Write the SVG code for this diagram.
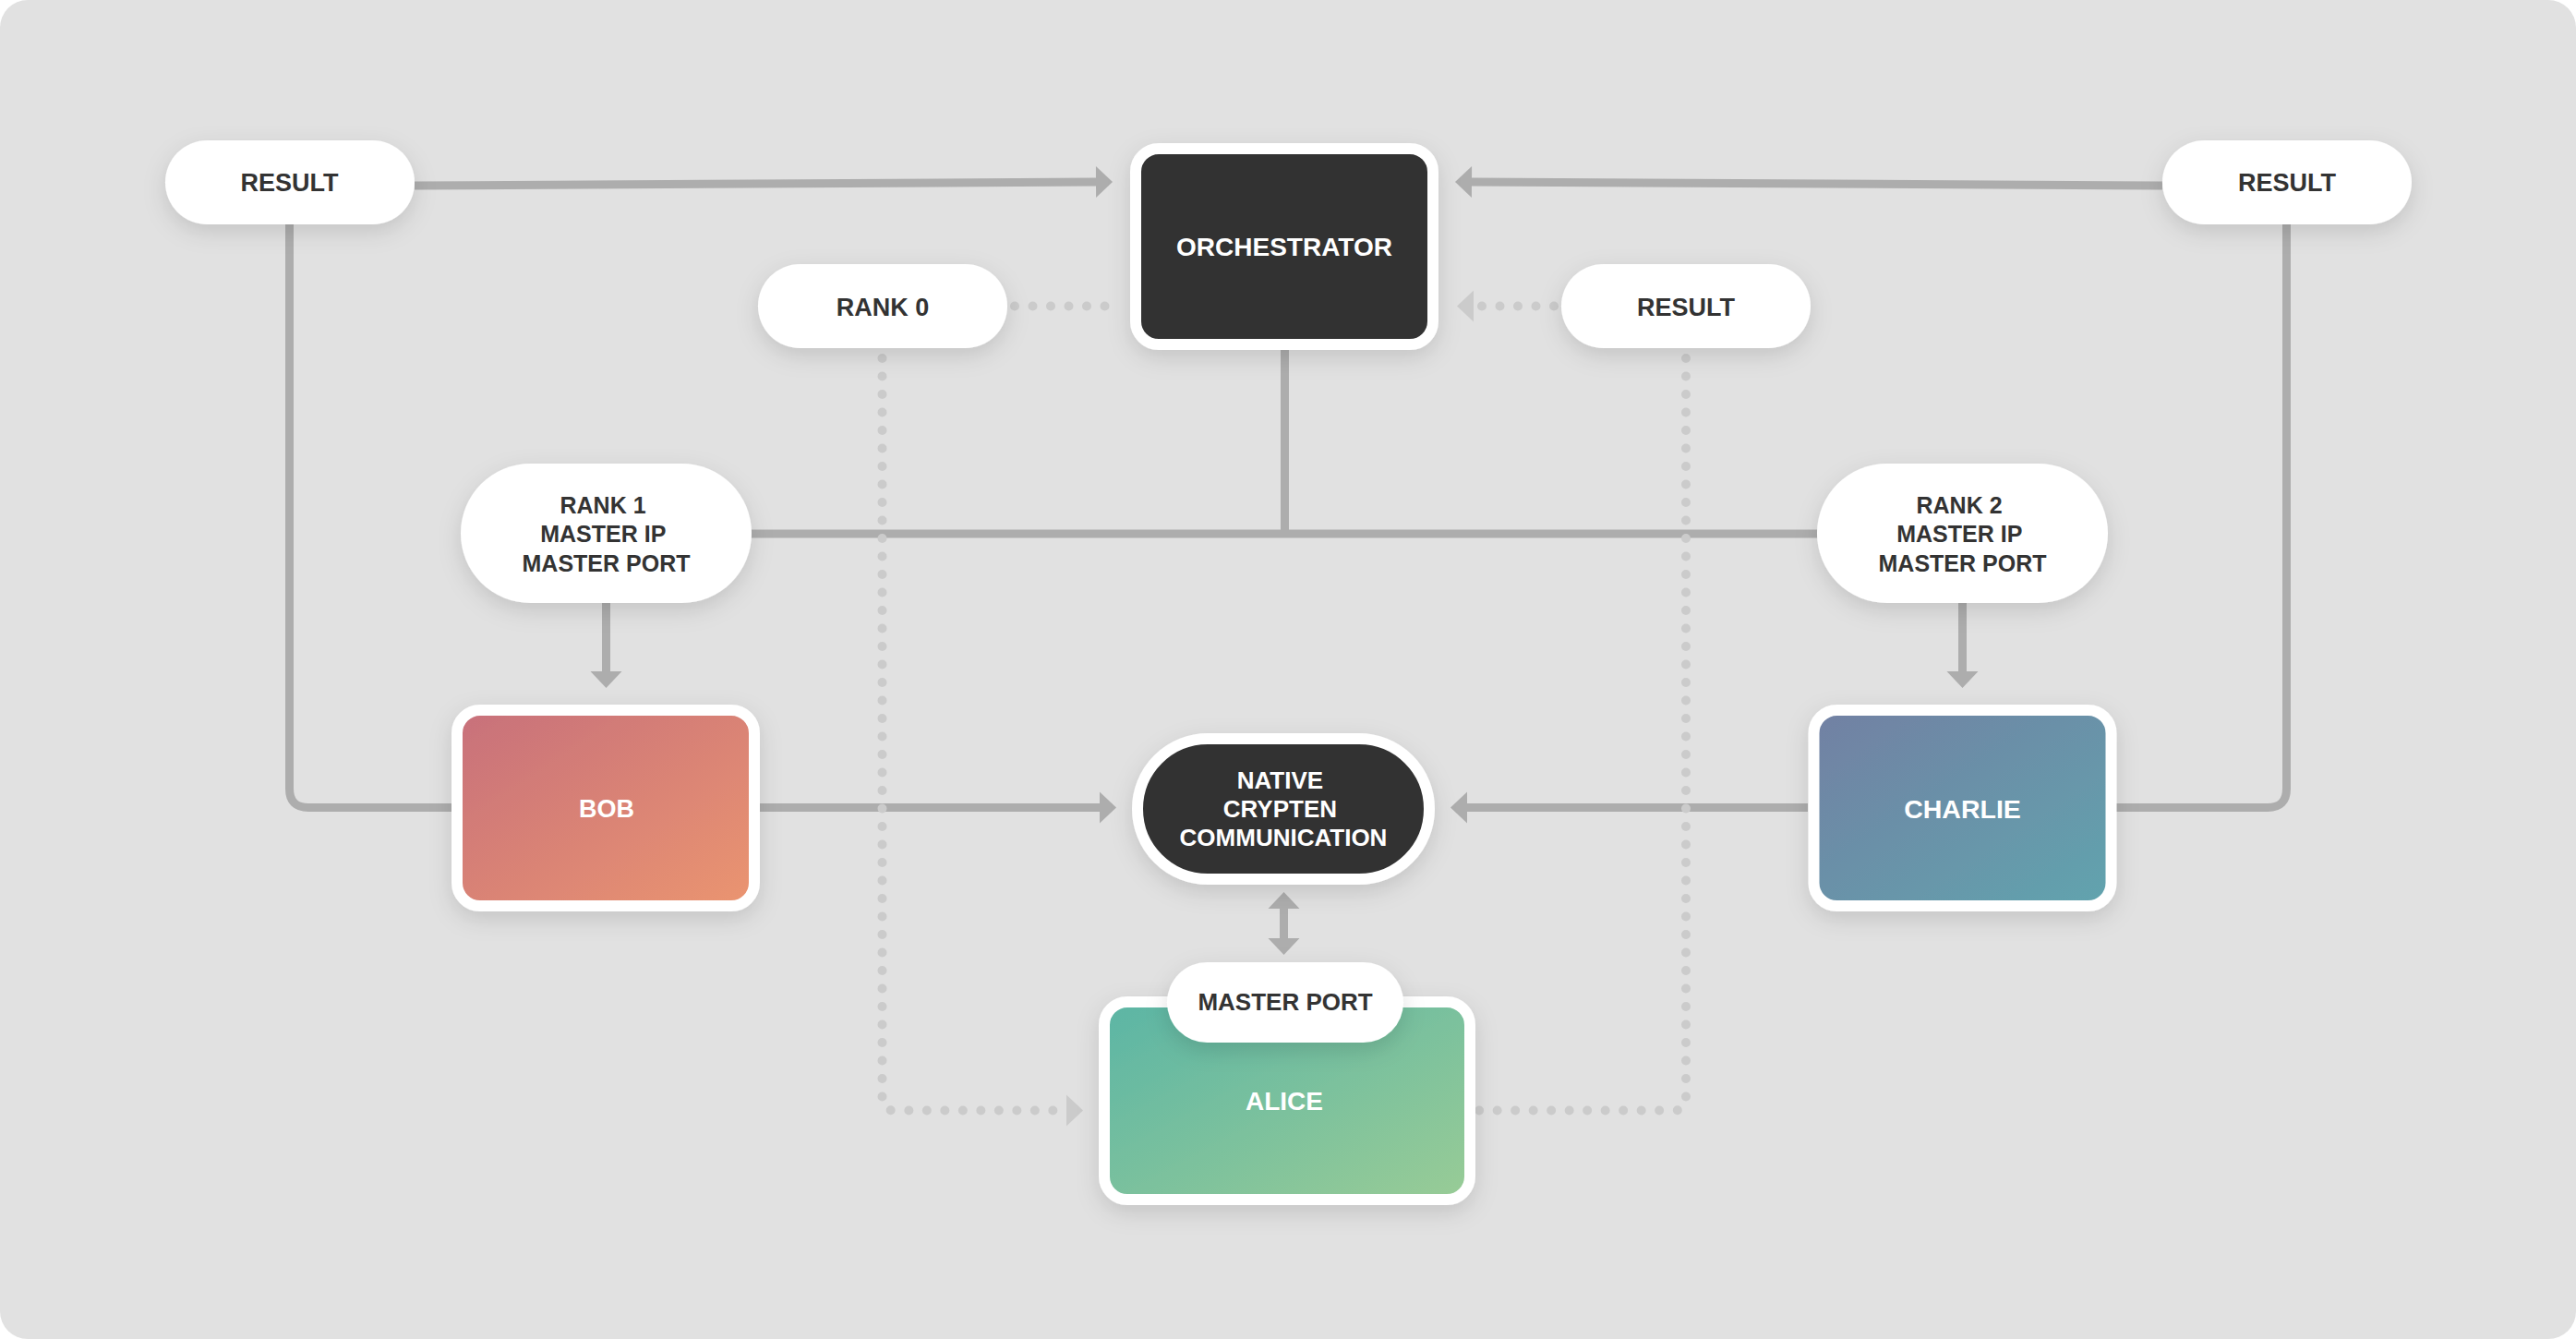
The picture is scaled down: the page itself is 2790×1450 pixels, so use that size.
<svg xmlns="http://www.w3.org/2000/svg" width="2790" height="1450" viewBox="0 0 2790 1450">
  <defs>
    <style>
      .bg { fill: #e1e1e1; }
      .pill { fill: #ffffff; filter: url(#shadow); }
      .dark { fill: #333333; stroke: #ffffff; stroke-width: 12; filter: url(#shadow); }
      .box { stroke: #ffffff; stroke-width: 12; filter: url(#shadow); }
      .lbl { font-family: "Liberation Sans", Arial, sans-serif; font-weight: 700; text-anchor: middle; }
      .lblDark { fill: #333333; font-size: 27px; }
      .lblLight { fill: #ffffff; font-size: 27px; }
      .solid { fill: none; stroke: #adadad; stroke-width: 9; }
      .dotted { fill: none; stroke: #cbcbcb; stroke-width: 10; stroke-linecap: round; stroke-dasharray: 0 19.5; }
    </style>
    <filter id="shadow" x="-30%" y="-30%" width="160%" height="170%">
      <feDropShadow dx="0" dy="8" stdDeviation="12" flood-color="#000000" flood-opacity="0.13"/>
    </filter>
    <marker id="arr" markerUnits="userSpaceOnUse" viewBox="0 -17 18 34" refX="0" refY="0" markerWidth="18" markerHeight="34" orient="auto-start-reverse" overflow="visible">
      <path d="M0,-17 L18,0 L0,17 Z" fill="#adadad"/>
    </marker>
    <marker id="arrLight" markerUnits="userSpaceOnUse" viewBox="0 -17 18 34" refX="0" refY="0" markerWidth="18" markerHeight="34" orient="auto" overflow="visible">
      <path d="M0,-17 L18,0 L0,17 Z" fill="#cbcbcb"/>
    </marker>
    <linearGradient id="gBob" x1="0" y1="0" x2="1" y2="1">
      <stop offset="0" stop-color="#c7707b"/>
      <stop offset="1" stop-color="#eb9570"/>
    </linearGradient>
    <linearGradient id="gCharlie" x1="0" y1="0" x2="1" y2="1">
      <stop offset="0" stop-color="#7280a3"/>
      <stop offset="1" stop-color="#61a4ae"/>
    </linearGradient>
    <linearGradient id="gAlice" x1="0" y1="0" x2="1" y2="1">
      <stop offset="0" stop-color="#5bb5a5"/>
      <stop offset="1" stop-color="#99cc96"/>
    </linearGradient>
  </defs>

  <rect class="bg" x="0" y="0" width="2790" height="1450" rx="30"/>

  <g id="connectors">
    <path class="solid" d="M449,201 L1187,197" marker-end="url(#arr)"/>
    <path class="solid" d="M2342,201 L1594,197" marker-end="url(#arr)"/>
    <path class="solid" d="M1391.5,379 V578"/>
    <path class="solid" d="M814,578 H1968"/>
    <path class="solid" d="M656.5,653 V727" marker-end="url(#arr)"/>
    <path class="solid" d="M2125.5,653 V727" marker-end="url(#arr)"/>
    <path class="solid" d="M313.5,243 V854 Q313.5,874.5 334,874.5 H490"/>
    <path class="solid" d="M2476.5,243 V854 Q2476.5,874.5 2456,874.5 H2292"/>
    <path class="solid" d="M823,874.5 H1191" marker-end="url(#arr)"/>
    <path class="solid" d="M1958,874.5 H1589" marker-end="url(#arr)"/>
    <path class="solid" d="M1390.5,984 V1016" marker-start="url(#arr)" marker-end="url(#arr)"/>
    <path class="dotted" d="M1099,331.5 H1215"/>
    <path class="dotted" d="M1683,331.5 H1596" marker-end="url(#arrLight)"/>
    <path class="dotted" d="M955.5,388 V1190 Q955.5,1202.5 968,1202.5 H1155" marker-end="url(#arrLight)"/>
    <path class="dotted" d="M1826,388 V1190 Q1826,1202.5 1813.5,1202.5 H1600"/>
  </g>

  <g id="result-left">
    <rect class="pill" x="179" y="152" width="270" height="91" rx="45.5"/>
    <text class="lbl lblDark" x="313.5" y="207">RESULT</text>
  </g>
  <g id="rank0">
    <rect class="pill" x="821" y="286" width="270" height="91" rx="45.5"/>
    <text class="lbl lblDark" x="956" y="341.5">RANK 0</text>
  </g>
  <g id="result-mid">
    <rect class="pill" x="1691" y="286" width="270" height="91" rx="45.5"/>
    <text class="lbl lblDark" x="1826" y="341.5">RESULT</text>
  </g>
  <g id="result-right">
    <rect class="pill" x="2342" y="152" width="270" height="91" rx="45.5"/>
    <text class="lbl lblDark" x="2477" y="207">RESULT</text>
  </g>
  <g id="orchestrator">
    <rect class="dark" x="1230" y="161" width="322" height="212" rx="25"/>
    <text class="lbl lblLight" x="1391" y="277" style="font-size:28px">ORCHESTRATOR</text>
  </g>
  <g id="rank1">
    <rect class="pill" x="499" y="502" width="315" height="151" rx="75.5"/>
    <text class="lbl lblDark" style="font-size:25px">
      <tspan x="656.5" y="556">RANK 1</tspan>
      <tspan x="656.5" y="587">MASTER IP</tspan>
      <tspan x="656.5" y="618.5">MASTER PORT</tspan>
    </text>
  </g>
  <g id="rank2">
    <rect class="pill" x="1968" y="502" width="315" height="151" rx="75.5"/>
    <text class="lbl lblDark" style="font-size:25px">
      <tspan x="2125.5" y="556">RANK 2</tspan>
      <tspan x="2125.5" y="587">MASTER IP</tspan>
      <tspan x="2125.5" y="618.5">MASTER PORT</tspan>
    </text>
  </g>
  <g id="bob">
    <rect class="box" x="495" y="769" width="322" height="212" rx="25" fill="url(#gBob)"/>
    <text class="lbl lblLight" x="657" y="885">BOB</text>
  </g>
  <g id="charlie">
    <rect class="box" x="1964.5" y="769" width="322" height="212" rx="25" fill="url(#gCharlie)"/>
    <text class="lbl lblLight" x="2125.5" y="885.5" style="font-size:28.5px">CHARLIE</text>
  </g>
  <g id="native-crypten">
    <rect class="dark" x="1232" y="800" width="316" height="152" rx="76"/>
    <text class="lbl lblLight" style="font-size:26px">
      <tspan x="1390" y="853.5">NATIVE</tspan>
      <tspan x="1390" y="884.5">CRYPTEN</tspan>
      <tspan x="1390" y="915.5">COMMUNICATION</tspan>
    </text>
  </g>
  <g id="alice">
    <rect class="box" x="1196" y="1085" width="396" height="214" rx="25" fill="url(#gAlice)"/>
    <text class="lbl lblLight" x="1391" y="1202" style="font-size:28px">ALICE</text>
  </g>
  <g id="master-port">
    <rect class="pill" x="1264" y="1042" width="256" height="87" rx="43.5"/>
    <text class="lbl lblDark" x="1392" y="1093.5" style="font-size:26px">MASTER PORT</text>
  </g>
</svg>
